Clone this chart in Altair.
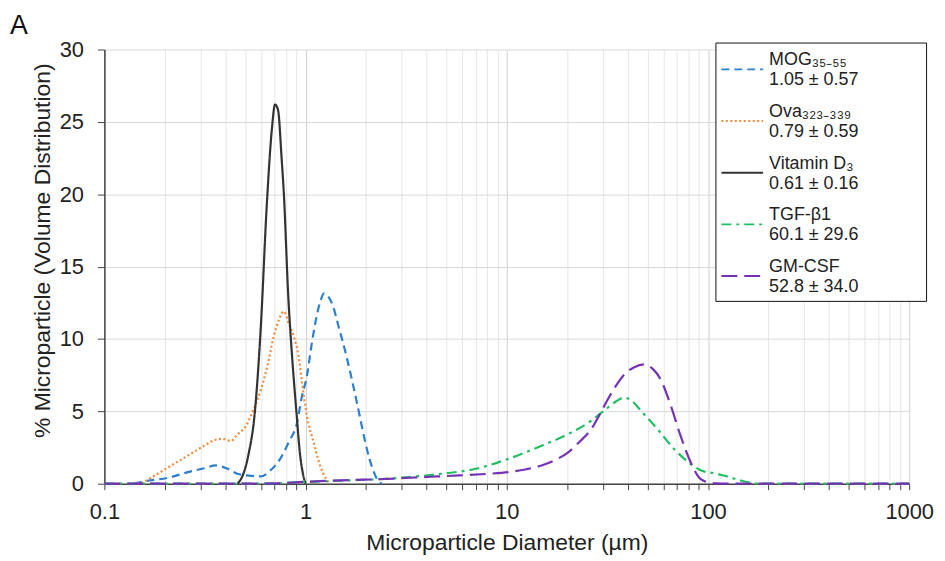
import altair as alt
import pandas as pd

# ---- data ----
series_names = ["MOG₃₅₋₅₅", "Ova₃₂₃₋₃₃₉", "Vitamin D₃", "TGF-β1", "GM-CSF"]
series_stats = ["1.05 ± 0.57", "0.79 ± 0.59", "0.61 ± 0.16", "60.1 ± 29.6", "52.8 ± 34.0"]
series_colors = ["#2a7fd0", "#f08a3c", "#333333", "#22bf62", "#7433b4"]
series_dashes = [[8, 5], [2, 2.5], [1, 0], [10, 5, 3, 5], [16, 7]]
panel_label = ["A"]

mog_x = [0.14, 0.15, 0.215, 0.26, 0.314, 0.358, 0.41, 0.458, 0.513, 0.597, 0.668, 0.748, 0.824,
         0.906, 0.96, 1.014, 1.074, 1.136, 1.19, 1.235, 1.30, 1.374, 1.45, 1.597, 1.73, 1.857,
         1.97, 2.08, 2.2, 2.29, 2.4]
mog_y = [0, 0.1, 0.46, 0.8, 1.07, 1.26, 1.03, 0.69, 0.57, 0.5, 0.91, 1.72, 2.86,
         4.2, 6.06, 7.4, 9.7, 11.6, 12.7, 13.15, 12.9, 12.2, 11.0, 8.8, 6.7, 4.7,
         3.0, 1.7, 0.7, 0.2, 0]

ova_x = [0.145, 0.152, 0.178, 0.215, 0.26, 0.314, 0.358, 0.385, 0.425, 0.458, 0.50, 0.55, 0.60,
         0.645, 0.695, 0.736, 0.78, 0.824, 0.873, 0.923, 0.96, 1.014, 1.094, 1.18, 1.27, 1.32]
ova_y = [0, 0.05, 0.57, 1.26, 1.94, 2.63, 3.04, 3.1, 2.95, 3.4, 3.9, 5.1, 6.5,
         8.1, 10.2, 11.3, 11.9, 11.1, 10.2, 8.8, 7.0, 4.7, 2.9, 1.26, 0.3, 0]

vit_x = [0.46, 0.494, 0.52, 0.56, 0.60, 0.64, 0.68, 0.705, 0.73, 0.76, 0.78, 0.82, 0.86, 0.90,
         0.94, 0.97, 1.0]
vit_y = [0, 0.8, 2.0, 5.0, 11.0, 19.0, 24.5, 26.2, 25.8, 22.5, 20.0, 13.0, 8.5, 5.0,
         1.94, 0.7, 0]

tgf_x = [0.1, 0.5, 0.7, 0.85, 1.0, 1.3, 1.7, 2.24, 3.28, 4.79, 7.0, 10.2, 14.9, 20.2, 26.3,
         31.8, 35.0, 38.4, 42.0, 46.5, 56.1, 67.8, 81.9, 90.0, 95.3, 105.0, 119.6, 144.6,
         165.0, 180.0, 1000.0]
tgf_y = [0, 0, 0.02, 0.08, 0.12, 0.18, 0.24, 0.3, 0.46, 0.69, 1.03, 1.72, 2.63, 3.43, 4.35,
         5.26, 5.7, 5.95, 5.7, 5.03, 3.77, 2.4, 1.37, 1.0, 0.85, 0.75, 0.57, 0.23,
         0.05, 0, 0]

gm_x = [0.1, 0.5, 0.7, 0.85, 1.0, 1.3, 1.7, 2.24, 3.3, 4.5, 5.8, 8.0, 10.2, 12.5, 14.9, 17.5,
        20.2, 23.0, 26.3, 29.0, 31.8, 35.0, 38.4, 43.0, 48.2, 53.0, 58.2, 65.3, 73.1, 81.9,
        90.0, 95.0, 100.0, 110.0, 130.0, 1000.0]
gm_y = [0, 0, 0.02, 0.08, 0.13, 0.2, 0.26, 0.3, 0.41, 0.5, 0.57, 0.68, 0.8, 1.0, 1.26, 1.65,
        2.17, 2.9, 3.77, 4.8, 5.83, 6.8, 7.55, 8.05, 8.24, 7.95, 7.2, 5.4, 3.3, 1.5,
        0.45, 0.2, 0.1, 0.02, 0, 0]

x_ticks = [0.1, 0.2, 0.3, 0.4, 0.5, 0.6, 0.7, 0.8, 0.9,
           1, 2, 3, 4, 5, 6, 7, 8, 9,
           10, 20, 30, 40, 50, 60, 70, 80, 90,
           100, 200, 300, 400, 500, 600, 700, 800, 900, 1000]
y_ticks = [0, 5, 10, 15, 20, 25, 30]

# ---- build table ----
nbsp = "\u00a0"
keys = []
for i, (n, s) in enumerate(zip(series_names, series_stats)):
    pad = (nbsp * 14 + "\u200b") if i == 1 else ""
    keys.append(n + pad + "|" + s)

xs = [mog_x, ova_x, vit_x, tgf_x, gm_x]
ys = [mog_y, ova_y, vit_y, tgf_y, gm_y]
rows = []
for k, xv, yv in zip(keys, xs, ys):
    for a, b in zip(xv, yv):
        rows.append({"series": k, "diameter": a, "pct": b})
df = pd.DataFrame(rows)

FONT = "Liberation Sans"
major_test = "indexof([0.1, 1, 10, 100, 1000], datum.value) >= 0"

leg = alt.Legend(
    title=None, orient="none", legendX=615, legendY=-7,
    symbolType="stroke", symbolSize=1764, symbolStrokeWidth=2,
    labelFont=FONT, labelFontSize=18, labelColor="#222222",
    labelExpr="split(datum.label, '|')", labelOffset=5, labelBaseline="bottom",
    strokeColor="#111111", fillColor="white", padding=5, rowPadding=10,
)

lines = alt.Chart(df).mark_line(strokeWidth=2.2, interpolate="monotone").encode(
    x=alt.X("diameter:Q",
            scale=alt.Scale(type="log", domain=[0.1, 1000], nice=False),
            axis=alt.Axis(values=x_ticks,
                          labelExpr="indexof([0.1, 1, 10, 100, 1000], datum.value) >= 0 ? format(datum.value, '~g') : ''",
                          title="Microparticle Diameter (µm)",
                          grid=True,
                          gridColor={"condition": {"test": major_test, "value": "#cfcfcf"}, "value": "#e6e6e6"},
                          labelOverlap=False, labelFlush=False,
                          labelFont=FONT, titleFont=FONT,
                          labelFontSize=22, titleFontSize=23,
                          labelColor="#222222", titleColor="#222222",
                          titleFontWeight="normal",
                          tickSize=6, tickColor="#444444", domainColor="#444444",
                          domainWidth=1.5, labelPadding=12, titlePadding=9)),
    y=alt.Y("pct:Q",
            scale=alt.Scale(domain=[0, 30]),
            axis=alt.Axis(values=y_ticks,
                          title="% Microparticle (Volume Distribution)",
                          grid=True, gridColor="#d9d9d9",
                          labelFont=FONT, titleFont=FONT,
                          labelFontSize=22, titleFontSize=23,
                          labelColor="#222222", titleColor="#222222",
                          titleFontWeight="normal", titleY=202,
                          tickSize=7, tickColor="#444444", domainColor="#444444",
                          domainWidth=1.5, labelPadding=14, titlePadding=5)),
    color=alt.Color("series:N", scale=alt.Scale(domain=keys, range=series_colors), legend=leg),
    strokeDash=alt.StrokeDash("series:N", scale=alt.Scale(domain=keys, range=series_dashes), legend=leg),
)

label = alt.Chart(pd.DataFrame({"t": panel_label})).mark_text(
    align="left", baseline="alphabetic", fontSize=27, font=FONT, color="#111111"
).encode(text="t:N", x=alt.value(-95), y=alt.value(-16))

chart = alt.layer(lines, label).properties(
    width=810, height=437,
    autosize=alt.AutoSizeParams(type="none"),
    padding={"left": 97, "top": 40, "right": 28, "bottom": 72},
).configure_view(strokeWidth=0)

chart.save("out.html", embed_options={"renderer": "svg", "actions": False})
